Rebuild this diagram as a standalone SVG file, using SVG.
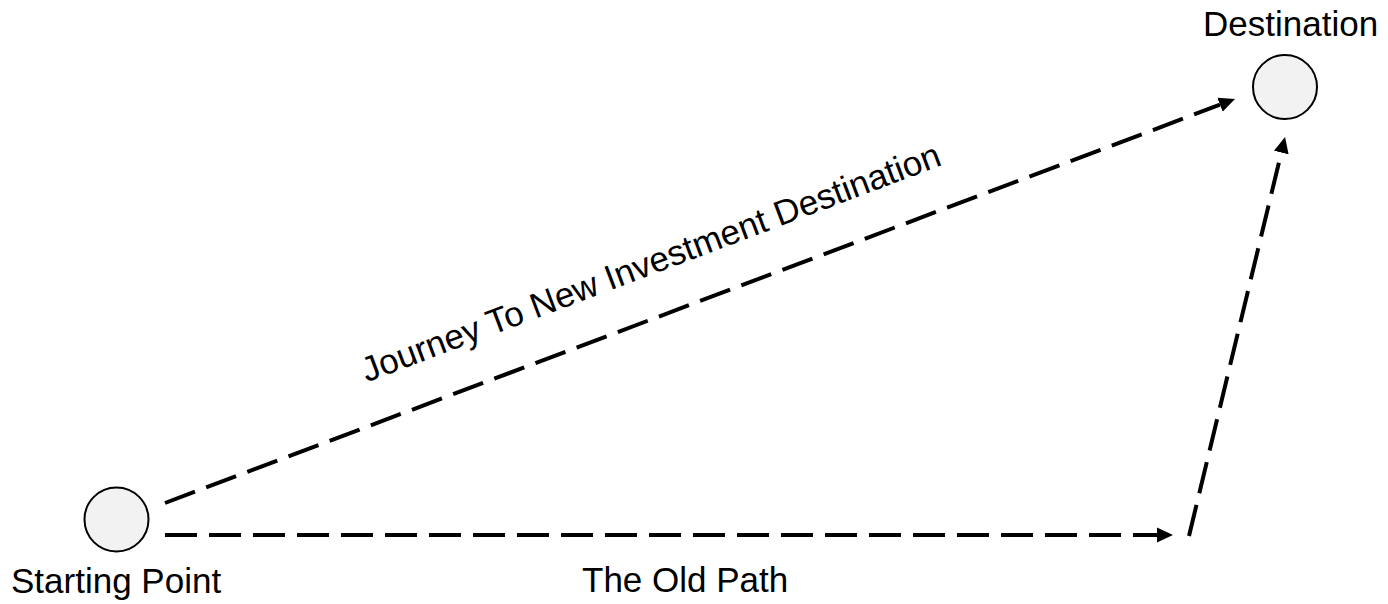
<svg xmlns="http://www.w3.org/2000/svg" width="1388" height="604" viewBox="0 0 1388 604">
  <style>
    .node { fill: #f2f2f2; stroke: #000; stroke-width: 2; }
    .label { font-family: "Liberation Sans", Arial, sans-serif; font-size: 35px; fill: #000; }
    .path { fill: none; stroke: #000; stroke-width: 4; stroke-dasharray: 32 12; }
  </style>
  <defs>
    <marker id="arrow" markerUnits="userSpaceOnUse" markerWidth="17" markerHeight="16" refX="0" refY="8" orient="auto">
      <polygon points="0,0.5 16,8 0,15.5" fill="#000"/>
    </marker>
  </defs>
  <rect width="1388" height="604" fill="#fff"/>

  <g id="start">
    <circle class="node" cx="116.5" cy="519.5" r="32"/>
    <text class="label" x="11" y="593">Starting Point</text>
  </g>

  <g id="destination">
    <circle class="node" cx="1285" cy="87" r="32"/>
    <text class="label" x="1203" y="36">Destination</text>
  </g>

  <g id="connectors">
    <path class="path" d="M165,503 L1220,104.7" marker-end="url(#arrow)"/>
    <path class="path" d="M165,535 L1157,535" marker-end="url(#arrow)"/>
    <path class="path" d="M1189,536 L1281.3,152.6" marker-end="url(#arrow)"/>
    <text class="label" x="655" y="273.5" text-anchor="middle" transform="rotate(-20.7 655 273.5)">Journey To New Investment Destination</text>
    <text class="label" x="582" y="592">The Old Path</text>
  </g>
</svg>
